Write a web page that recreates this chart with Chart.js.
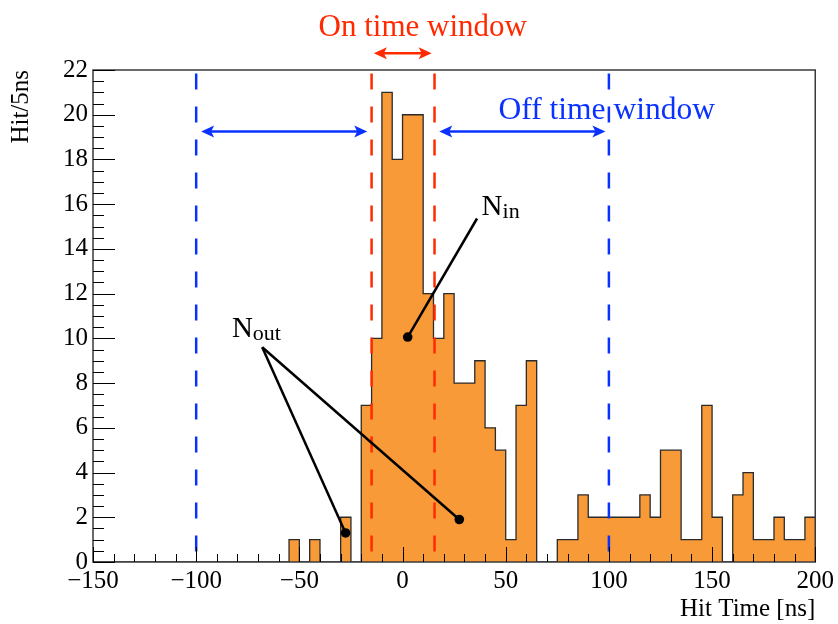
<!DOCTYPE html>
<html>
<head>
<meta charset="utf-8">
<script src="https://cdn.jsdelivr.net/npm/chart.js@4.4.1/dist/chart.umd.min.js"></script>
<style>
  html, body { margin: 0; padding: 0; background: #fff; }
  #wrap { width: 838px; height: 624px; }
</style>
</head>
<body>
<div id="wrap"><canvas id="hitChart"></canvas></div>
<script>
// histogram: 5 ns bins, lower edge of first bin at -150 ns
const binStart = -150;
const binWidth = 5;
const hitCounts = [
  0, 0, 0, 0, 0, 0, 0, 0, 0, 0,     // -150 .. -105
  0, 0, 0, 0, 0, 0, 0, 0, 0, 1,     // -100 .. -55
  0, 1, 0, 0, 2, 0, 7, 10, 21, 18,  // -50 .. -5
  20, 20, 12, 10, 12, 8, 8, 9, 6, 5, // 0 .. 45
  1, 7, 9, 0, 0, 1, 1, 3, 2, 2,     // 50 .. 95
  2, 2, 2, 3, 2, 5, 5, 1, 1, 7,     // 100 .. 145
  2, 0, 3, 4, 1, 1, 2, 1, 1, 2      // 150 .. 195
];
const onWindow = [-15, 15.5];
const offWindow = [-100, 100];
const xRange = [-150, 200];
const yRange = [0, 22];

const RED = '#ff2a00';
const BLUE = '#0a32ff';
const FILL = '#f99a38';
const SERIF = '"Liberation Serif", "Times New Roman", serif';

// bin edges -> stepped points
const histPoints = hitCounts.map((v, i) => ({ x: binStart + i * binWidth, y: v }));
histPoints.push({ x: binStart + hitCounts.length * binWidth, y: hitCounts[hitCounts.length - 1] });

function vline(x, color) {
  return {
    data: [{ x: x, y: yRange[1] }, { x: x, y: yRange[0] }],
    borderColor: color,
    borderWidth: 2.5,
    borderDash: [16, 17],
    borderDashOffset: 29.5,
    pointRadius: 0,
    fill: false,
    order: 0
  };
}

// annotation layout (data coordinates)
const notes = {
  offArrowY: 19.25,
  offArrows: [[-97.6, -17.1], [17.8, 98.3]],
  onArrow: { x: [-13.9, 14.1], y: 22.75 },
  onLabel: { x: 9.8, y: 23.52 },
  offLabel: { x: 46.5, y: 19.8 },
  nIn: { x: 38.3, y: 15.5, from: [36.1, 15.36], dot: [2.5, 10.06] },
  nOut: { x: -82.7, y: 10.07, from: [-68, 9.6], dots: [[-27.6, 1.3], [27.5, 1.9]] }
};

function head(ctx, x, y, dir, color) {
  ctx.beginPath();
  ctx.moveTo(x, y);
  ctx.lineTo(x - dir * 13, y - 6);
  ctx.lineTo(x - dir * 10, y);
  ctx.lineTo(x - dir * 13, y + 6);
  ctx.closePath();
  ctx.fillStyle = color;
  ctx.fill();
}

function doubleArrow(ctx, x1, x2, y, color) {
  ctx.beginPath();
  ctx.moveTo(x1 + 8, y);
  ctx.lineTo(x2 - 8, y);
  ctx.strokeStyle = color;
  ctx.lineWidth = 2.5;
  ctx.stroke();
  head(ctx, x1, y, -1, color);
  head(ctx, x2, y, 1, color);
}

function label(ctx, main, sub, x, y) {
  ctx.fillStyle = '#000';
  ctx.textAlign = 'left';
  ctx.textBaseline = 'alphabetic';
  ctx.font = '29px ' + SERIF;
  ctx.fillText(main, x, y);
  const w = ctx.measureText(main).width;
  ctx.font = '22px ' + SERIF;
  ctx.fillText(sub, x + w, y + 3);
}

const decorations = {
  id: 'decorations',
  afterDraw(chart) {
    const ctx = chart.ctx;
    const sx = chart.scales.x, sy = chart.scales.y;
    const X = v => sx.getPixelForValue(v);
    const Y = v => sy.getPixelForValue(v);
    const a = chart.chartArea;
    ctx.save();

    // frame
    ctx.strokeStyle = '#3a3a3a';
    ctx.lineWidth = 1.5;
    ctx.strokeRect(a.left, a.top, a.right - a.left, a.bottom - a.top);

    // inside ticks
    ctx.strokeStyle = '#000';
    ctx.lineWidth = 1;
    ctx.beginPath();
    for (let v = xRange[0]; v <= xRange[1]; v += 10) {
      const major = v % 50 === 0;
      const px = Math.round(X(v)) + 0.5;
      ctx.moveTo(px, a.bottom);
      ctx.lineTo(px, a.bottom - (major ? 15 : 8));
    }
    for (let v = yRange[0]; v <= yRange[1]; v += 0.5) {
      const major = v % 2 === 0;
      const py = Math.round(Y(v)) + 0.5;
      ctx.moveTo(a.left, py);
      ctx.lineTo(a.left + (major ? 22 : 11), py);
    }
    ctx.stroke();

    // off time window arrows
    notes.offArrows.forEach(p => doubleArrow(ctx, X(p[0]), X(p[1]), Y(notes.offArrowY), BLUE));
    // on time window arrow
    doubleArrow(ctx, X(notes.onArrow.x[0]), X(notes.onArrow.x[1]), Y(notes.onArrow.y), RED);

    ctx.textBaseline = 'alphabetic';
    ctx.font = '31px ' + SERIF;
    ctx.fillStyle = RED;
    ctx.textAlign = 'center';
    ctx.fillText('On time window', X(notes.onLabel.x), Y(notes.onLabel.y));
    ctx.font = '31.5px ' + SERIF;
    ctx.fillStyle = BLUE;
    ctx.textAlign = 'left';
    ctx.fillText('Off time window', X(notes.offLabel.x), Y(notes.offLabel.y));

    // N_in / N_out pointers
    ctx.strokeStyle = '#000';
    ctx.fillStyle = '#000';
    ctx.lineWidth = 2.5;
    const pointer = (from, to) => {
      ctx.beginPath();
      ctx.moveTo(X(from[0]), Y(from[1]));
      ctx.lineTo(X(to[0]), Y(to[1]));
      ctx.stroke();
      ctx.beginPath();
      ctx.arc(X(to[0]), Y(to[1]), 4.8, 0, Math.PI * 2);
      ctx.fill();
    };
    pointer(notes.nIn.from, notes.nIn.dot);
    notes.nOut.dots.forEach(d => pointer(notes.nOut.from, d));
    label(ctx, 'N', 'in', X(notes.nIn.x), Y(notes.nIn.y));
    label(ctx, 'N', 'out', X(notes.nOut.x), Y(notes.nOut.y));

    ctx.restore();
  }
};

const ctx = document.getElementById('hitChart').getContext('2d');
new Chart(ctx, {
  type: 'line',
  data: {
    datasets: [
      vline(onWindow[0], RED),
      vline(onWindow[1], RED),
      vline(offWindow[0], BLUE),
      vline(offWindow[1], BLUE),
      {
        data: histPoints,
        stepped: 'before',
        borderColor: '#2b2b2b',
        borderWidth: 1.3,
        backgroundColor: FILL,
        fill: 'origin',
        pointRadius: 0,
        order: 1
      }
    ]
  },
  options: {
    responsive: true,
    maintainAspectRatio: false,
    animation: false,
    layout: { padding: { top: 70, right: 20, left: 0, bottom: 0 } },
    plugins: { legend: { display: false }, tooltip: { enabled: false } },
    scales: {
      x: {
        type: 'linear',
        min: xRange[0],
        max: xRange[1],
        afterFit: s => { s.height = 62; },
        grid: { display: false, drawTicks: false },
        border: { display: false },
        ticks: {
          stepSize: 50,
          padding: 4,
          maxRotation: 0,
          color: '#000',
          font: { family: SERIF, size: 25 },
          callback: v => String(v).replace('-', '\u2212')
        },
        title: {
          display: true,
          text: 'Hit Time [ns]',
          align: 'end',
          color: '#000',
          font: { family: SERIF, size: 25, lineHeight: 1 },
          padding: { top: 0, bottom: 2 }
        }
      },
      y: {
        type: 'linear',
        min: yRange[0],
        max: yRange[1],
        afterFit: s => { s.width = 93; },
        grid: { display: false, drawTicks: false },
        border: { display: false },
        ticks: {
          stepSize: 2,
          padding: 5,
          color: '#000',
          font: { family: SERIF, size: 25 }
        },
        title: {
          display: true,
          text: 'Hit/5ns',
          align: 'end',
          color: '#000',
          font: { family: SERIF, size: 25, lineHeight: 1 },
          padding: { top: 9, bottom: 0 }
        }
      }
    }
  },
  plugins: [decorations]
});
</script>
</body>
</html>
